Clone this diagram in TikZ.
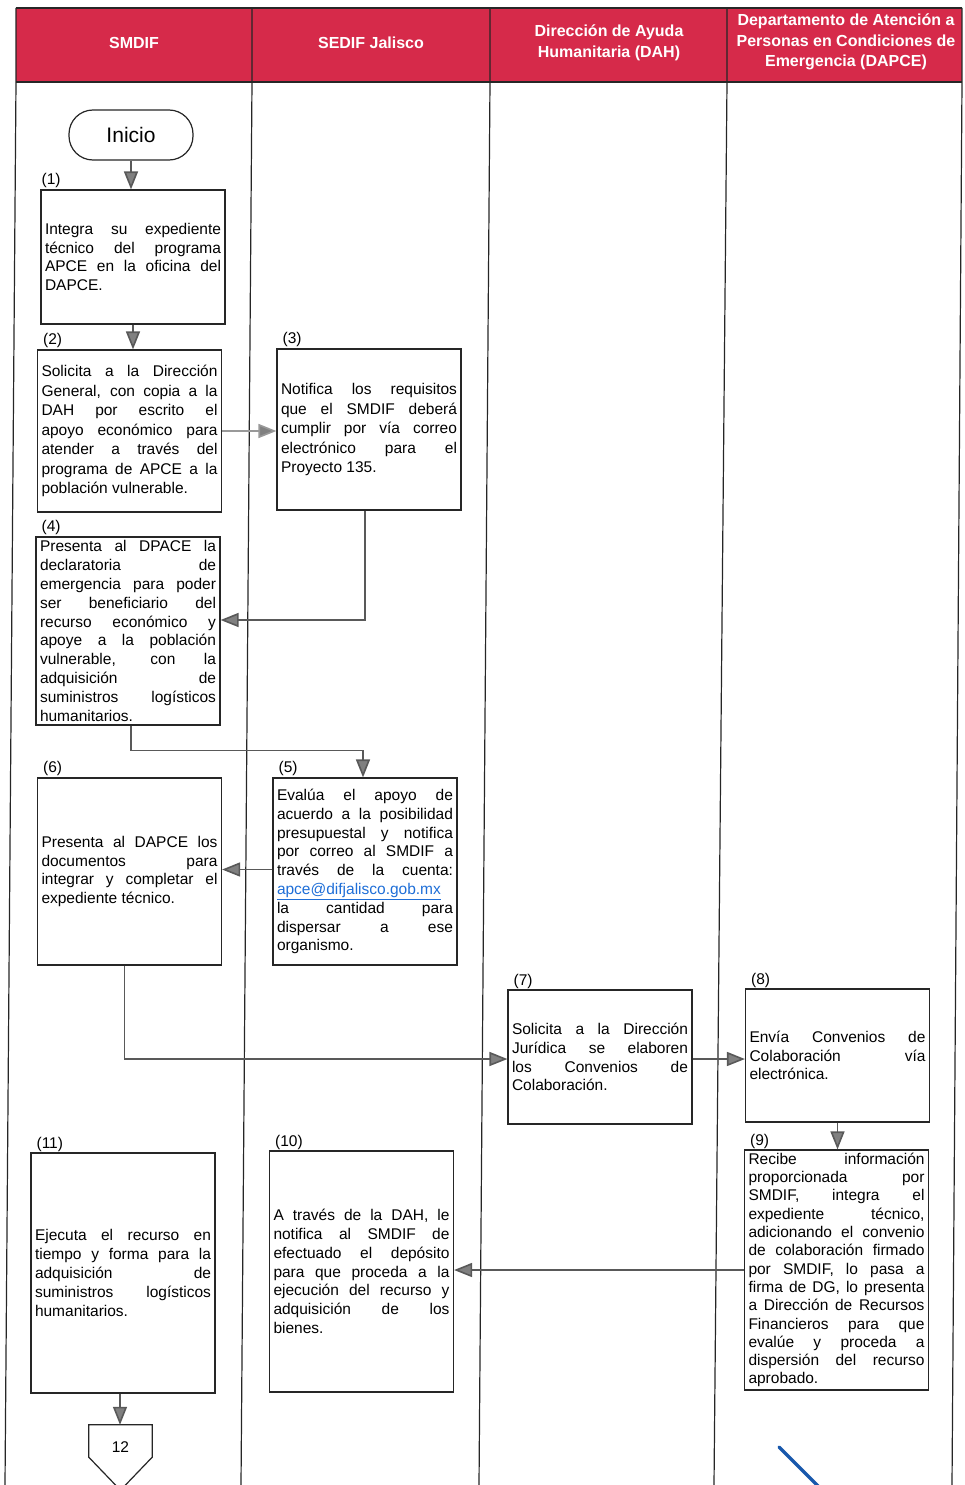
\documentclass[tikz,border=0pt]{standalone}
\usepackage{fontspec}
\setmainfont{Liberation Sans}
\usetikzlibrary{arrows.meta}
\definecolor{hdrred}{RGB}{214,42,74}
\definecolor{linkblue}{RGB}{30,110,215}
\tikzset{
  lane/.style={line width=1.2pt, black!85},
  hdr/.style={text=white, align=center, font=\bfseries\fontsize{16}{20.5}\selectfont},
  act/.style={draw=black!85, line width=1.2pt, rectangle, text width=176pt, inner xsep=4pt, inner ysep=2pt, align=justify, font=\fontsize{15.5}{18.8}\selectfont},
  num/.style={anchor=south west, inner sep=1pt, xshift=5pt, font=\fontsize{15.5}{18}\selectfont},
  flow/.style={draw=black!65, line width=1.6pt, -{Triangle[length=18pt,width=14pt,fill=black!50]}},
}
\begin{document}
\begin{tikzpicture}[x=1pt,y=-1pt]
\useasboundingbox (0,0) rectangle (964,1485);
% carriles
\fill[hdrred] (16,8) rectangle (962,82);
\foreach \xt/\xb in {16/5,252/241,490/479,727/714,962/952}
  \draw[lane] (\xt,8) -- (\xt,82) -- (\xb,1485);
\draw[lane] (16,8) -- (962,8) (16,82) -- (962,82);
\path
  (134,43) node[hdr] (hsmdif) {SMDIF}
  (371,43) node[hdr] (hsedif) {SEDIF Jalisco}
  (609,43) node[hdr] (hdah) {Dirección de Ayuda\\Humanitaria (DAH)}
  (846,42) node[hdr] (hdapce) {Departamento de Atención a\\Personas en Condiciones de\\Emergencia (DAPCE)};

% actividades
\node[draw=black!85, line width=1.2pt, rounded corners=24pt, minimum width=124pt, minimum height=50pt, font=\fontsize{21}{24}\selectfont] (inicio) at (131,135) {Inicio};
\node[act, minimum height=134pt, label={[num, xshift=-5pt]north west:(1)}] (a1) at (133,257)
  {Integra su expediente\linebreak técnico del programa\linebreak APCE en la oficina del\linebreak DAPCE.};
\node[act, minimum height=162pt, font=\fontsize{15.5}{19.5}\selectfont, label={[num]north west:(2)}] (a2) at (129.5,431)
  {Solicita a la Dirección\linebreak General, con copia a la\linebreak DAH por escrito el\linebreak apoyo económico para\linebreak atender a través del\linebreak programa de APCE a la\linebreak población vulnerable.};
\node[act, minimum height=161pt, font=\fontsize{15.5}{19.5}\selectfont, label={[num]north west:(3)}] (a3) at (369,429.5)
  {Notifica los requisitos\linebreak que el SMDIF deberá\linebreak cumplir por vía correo\linebreak electrónico para el\linebreak Proyecto 135.};
\node[act, minimum height=188pt, label={[num]north west:(4)}] (a4) at (128,631)
  {Presenta al DPACE la\linebreak declaratoria de\linebreak emergencia para poder\linebreak ser beneficiario del\linebreak recurso económico y\linebreak apoye a la población\linebreak vulnerable, con la\linebreak adquisición de\linebreak suministros logísticos\linebreak humanitarios.};
\node[act, minimum height=187pt, label={[num]north west:(5)}] (a5) at (365,871.5)
  {Evalúa el apoyo de\linebreak acuerdo a la posibilidad\linebreak presupuestal y notifica\linebreak por correo al SMDIF a\linebreak través de la cuenta:\linebreak {\color{linkblue}\underline{apce@difjalisco.gob.mx}}\linebreak la cantidad para\linebreak dispersar a ese\linebreak organismo.};
\node[act, minimum height=187pt, label={[num]north west:(6)}] (a6) at (129.5,871.5)
  {Presenta al DAPCE los\linebreak documentos para\linebreak integrar y completar el\linebreak expediente técnico.};
\node[act, minimum height=134pt, label={[num]north west:(7)}] (a7) at (600,1057)
  {Solicita a la Dirección\linebreak Jurídica se elaboren\linebreak los Convenios de\linebreak Colaboración.};
\node[act, minimum height=133pt, label={[num]north west:(8)}] (a8) at (837.5,1055.5)
  {Envía Convenios de\linebreak Colaboración vía\linebreak electrónica.};
\node[act, minimum height=240pt, font=\fontsize{15.5}{18.3}\selectfont, label={[num]north west:(9)}] (a9) at (836.5,1270)
  {Recibe información\linebreak proporcionada por\linebreak SMDIF, integra el\linebreak expediente técnico,\linebreak adicionando el convenio\linebreak de colaboración firmado\linebreak por SMDIF, lo pasa a\linebreak firma de DG, lo presenta\linebreak a Dirección de Recursos\linebreak Financieros para que\linebreak evalúe y proceda a\linebreak dispersión del recurso\linebreak aprobado.};
\node[act, minimum height=241pt, label={[num]north west:(10)}] (a10) at (361.5,1271.5)
  {A través de la DAH, le\linebreak notifica al SMDIF de\linebreak efectuado el depósito\linebreak para que proceda a la\linebreak ejecución del recurso y\linebreak adquisición de los\linebreak bienes.};
\node[act, minimum height=240pt, label={[num]north west:(11)}] (a11) at (123,1273)
  {Ejecuta el recurso en\linebreak tiempo y forma para la\linebreak adquisición de\linebreak suministros logísticos\linebreak humanitarios.};
\node[minimum width=63pt, minimum height=32pt, inner sep=0pt, font=\fontsize{15.5}{18}\selectfont] (c12) at (120.5,1441) {\raisebox{-6pt}[\height][\depth]{12}};
\draw[draw=black!85, line width=1.2pt] (c12.north west) -- (c12.north east) -- (c12.south east)
  -- ([yshift=-33pt]c12.south) -- (c12.south west) -- cycle;

% flujo
\draw[flow] (inicio.south) -- (inicio.south |- a1.north);
\draw[flow] (a1.south) -- (a1.south |- a2.north);
\draw[flow, draw=black!40] (a2.east) -- (a2.east -| a3.west);
\draw[flow] ([xshift=-4pt]a3.south) |- ([yshift=11pt]a4.east);
\draw[flow] ([xshift=3pt]a4.south) -- ++(0,25) -| ([xshift=-2pt]a5.north);
\draw[flow] ([yshift=2pt]a5.west) -- ([yshift=2pt]a5.west -| a6.east);
\draw[flow] ([xshift=-5pt]a6.south) |- ([yshift=-2pt]a7.west);
\draw[flow] ([yshift=-2pt]a7.east) -- ([yshift=-2pt]a7.east -| a8.west);
\draw[flow] (a8.south) -- (a8.south |- a9.north);
\draw[flow] (a9.west) -- (a9.west -| a10.east);
\draw[flow] ([xshift=-3pt]a11.south) -- ([xshift=-3pt]a11.south |- c12.north);

% trazo azul
\draw[linkblue!80!black, line width=3.5pt, line cap=round] (779,1447) -- (822,1490);
\end{tikzpicture}
\end{document}
